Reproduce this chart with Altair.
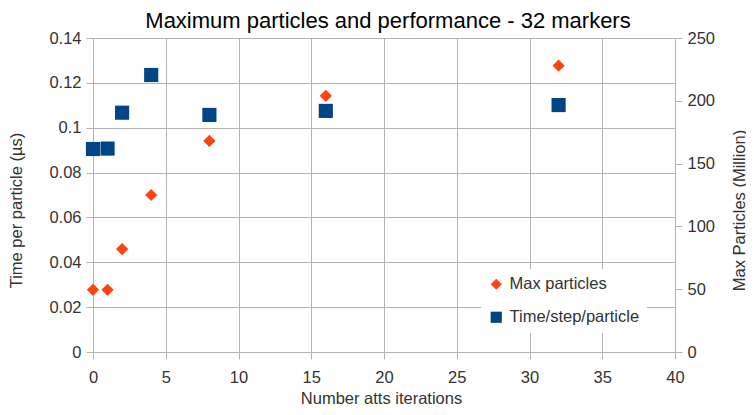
import altair as alt
import pandas as pd

iterations = [0, 1, 2, 4, 8, 16, 32]
time_per_particle = [0.0905, 0.0907, 0.1067, 0.1235, 0.1057, 0.1075, 0.1101]
max_particles = [49.5, 49.5, 82, 125, 168, 204, 228]
series_names = ["Max particles", "Time/step/particle"]
series_colors = ["#ff420e", "#004586"]
series_shapes = ["diamond", "square"]
x_ticks = [0, 5, 10, 15, 20, 25, 30, 35, 40]
left_ticks = [0, 0.02, 0.04, 0.06, 0.08, 0.1, 0.12, 0.14]
right_ticks = [0, 50, 100, 150, 200, 250]

df_time = pd.DataFrame({"it": iterations, "val": time_per_particle, "series": series_names[1]})
df_max = pd.DataFrame({"it": iterations, "val": max_particles, "series": series_names[0]})

FONT = "Liberation Sans"
GRID = "#b3b3b3"
LBL = 16.5


def make_legend():
    return alt.Legend(title=None, orient="none", legendX=388, legendY=231,
                      fillColor="white", padding=7, rowPadding=16,
                      symbolSize=125, labelFontSize=LBL, labelFont=FONT,
                      labelColor="#333333", labelOffset=5, symbolStrokeWidth=0)


color = alt.Color("series:N", scale=alt.Scale(domain=series_names, range=series_colors),
                  legend=make_legend())
shape = alt.Shape("series:N", scale=alt.Scale(domain=series_names, range=series_shapes),
                  legend=make_legend())

xenc = alt.X("it:Q", scale=alt.Scale(domain=[0, 40], nice=False),
             axis=alt.Axis(values=x_ticks, title="Number atts iterations",
                           grid=True, tickSize=7, labelPadding=23, labelFlush=False,
                           labelBaseline="alphabetic",
                           titleX=288, titleY=51, titleBaseline="alphabetic",
                           titleAlign="center"))

time_layer = alt.Chart(df_time).mark_point(filled=True, size=200, opacity=1).encode(
    x=xenc,
    y=alt.Y("val:Q", scale=alt.Scale(domain=[0, 0.14], nice=False, zero=True),
            axis=alt.Axis(values=left_ticks, format=".2~f", title="Time per particle (µs)",
                          grid=True, tickSize=7, labelPadding=5, labelFlush=False,
                          titleX=-72, titleY=172, titleAngle=270,
                          titleBaseline="alphabetic", titleAlign="center")),
    color=color,
    shape=shape,
)

max_layer = alt.Chart(df_max).mark_point(filled=True, size=150, opacity=1).encode(
    x=xenc,
    y=alt.Y("val:Q", scale=alt.Scale(domain=[0, 250], nice=False, zero=True),
            axis=alt.Axis(values=right_ticks, orient="right", title="Max Particles (Million)",
                          grid=False, tickSize=7, labelPadding=5, labelFlush=False,
                          titleX=69, titleY=172, titleAngle=270,
                          titleBaseline="alphabetic", titleAlign="center")),
    color=color,
    shape=shape,
)

chart = alt.layer(time_layer, max_layer).resolve_scale(y="independent").properties(
    width=582, height=314,
    padding={"left": 85, "top": 30, "right": 71, "bottom": 55},
    autosize=alt.AutoSizeParams(type="none"),
    title=alt.Title("Maximum particles and performance - 32 markers", fontSize=22, font=FONT,
                    color="#000000", fontWeight="normal", anchor="middle", dx=4, offset=4, dy=7),
    background="white",
).configure_axis(
    gridColor=GRID, domainColor=GRID, tickColor=GRID, gridWidth=1, domainWidth=1,
    labelFont=FONT, labelFontSize=LBL, labelColor="#333333",
    titleFont=FONT, titleFontSize=LBL, titleColor="#333333", titleFontWeight="normal",
).configure_view(strokeWidth=0)

chart.save("out.html", embed_options={"renderer": "svg", "actions": False})
